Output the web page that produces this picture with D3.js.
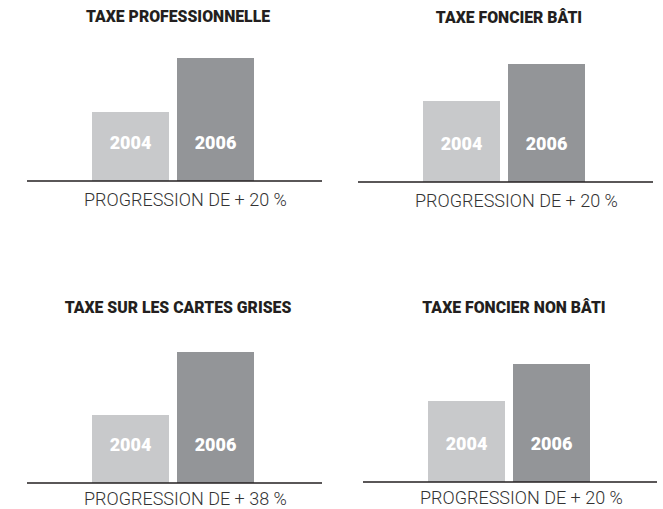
<!DOCTYPE html>
<html>
<head>
<meta charset="utf-8">
<script src="https://cdn.jsdelivr.net/npm/d3@7"></script>
<style>
  html, body { margin: 0; padding: 0; background: #ffffff; }
  svg { display: block; }
</style>
</head>
<body>
<svg id="chart" width="663" height="509"></svg>
<script>
// ---- Data ----
const titles = ["TAXE PROFESSIONNELLE", "TAXE FONCIER BÂTI", "TAXE SUR LES CARTES GRISES", "TAXE FONCIER NON BÂTI"];
const years = ["2004", "2006"];
const values2004 = [69, 81, 68, 81];   // relative bar heights (illustrative, not to scale)
const values2006 = [123, 118, 131, 118];
const progression = ["PROGRESSION DE + 20 %", "PROGRESSION DE + 20 %", "PROGRESSION DE + 38 %", "PROGRESSION DE + 20 %"];

// ---- Layout (per panel) ----
const layout = [
  { axisY: 181, axisX0: 27,  axisX1: 322, barX0: 92,  titleY: 22,  labelY: 206 },
  { axisY: 182, axisX0: 358, axisX1: 653, barX0: 423, titleY: 23,  labelY: 207 },
  { axisY: 483, axisX0: 27,  axisX1: 322, barX0: 92,  titleY: 313, labelY: 505 },
  { axisY: 482, axisX0: 363, axisX1: 657, barX0: 428, titleY: 313, labelY: 504 }
];
const colors = { "2004": "#c8c9cb", "2006": "#939598" };

const svg = d3.select("#chart");
const y = d3.scaleLinear().domain([0, 140]).range([0, 140]);

titles.forEach((title, i) => {
  const L = layout[i];
  const g = svg.append("g");
  const x = d3.scaleBand().domain(years).range([L.barX0, L.barX0 + 162]).paddingInner(0.094).paddingOuter(0);
  const data = [
    { year: "2004", value: values2004[i] },
    { year: "2006", value: values2006[i] }
  ];

  g.selectAll("rect.bar").data(data).enter().append("rect")
    .attr("class", "bar")
    .attr("x", d => x(d.year))
    .attr("width", x.bandwidth())
    .attr("y", d => L.axisY - y(d.value))
    .attr("height", d => y(d.value))
    .attr("fill", d => colors[d.year]);

  g.selectAll("text.yr").data(data).enter().append("text")
    .attr("class", "yr")
    .attr("x", d => x(d.year) + x.bandwidth() / 2)
    .attr("y", L.axisY - 32)
    .attr("text-anchor", "middle")
    .attr("font-family", "Roboto, 'DejaVu Sans', sans-serif")
    .attr("font-weight", 900)
    .attr("font-size", 18)
    .attr("fill", "#ffffff")
    .text(d => d.year);

  g.append("line")
    .attr("x1", L.axisX0).attr("x2", L.axisX1)
    .attr("y1", L.axisY).attr("y2", L.axisY)
    .attr("stroke", "#231f20")
    .attr("stroke-width", 1.6);

  g.append("text")
    .attr("x", L.barX0 + 81 + 5)
    .attr("y", L.titleY)
    .attr("text-anchor", "middle")
    .attr("font-family", "Roboto, 'DejaVu Sans', sans-serif")
    .attr("font-weight", 900)
    .attr("font-size", 15.8)
    .attr("fill", "#231f20")
    .text(title);

  g.append("text")
    .attr("x", L.barX0 - 8)
    .attr("y", L.labelY)
    .attr("text-anchor", "start")
    .attr("font-family", "Roboto, 'DejaVu Sans', sans-serif")
    .attr("font-weight", 300)
    .attr("font-size", 18)
    .attr("fill", "#333333")
    .text(progression[i]);
});
</script>
</body>
</html>
